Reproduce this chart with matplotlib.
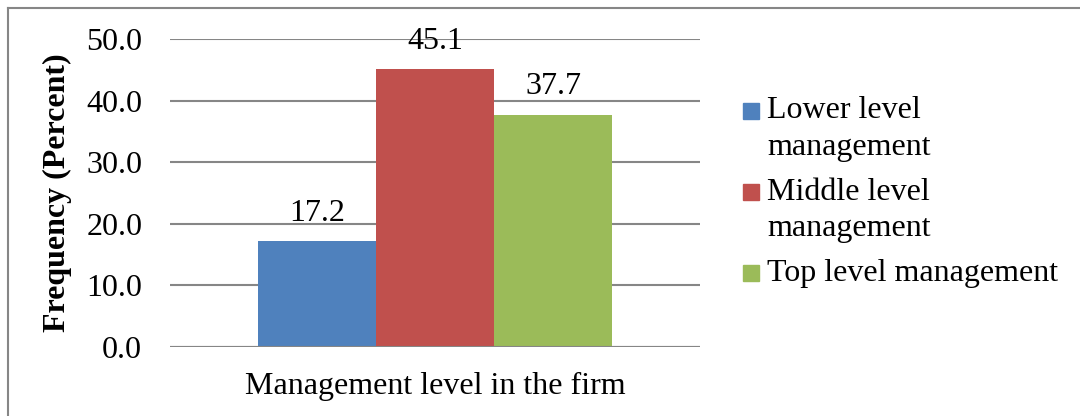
import numpy as np
import matplotlib.pyplot as plt
from matplotlib.lines import Line2D
from matplotlib.patches import Rectangle

# survey result: share of respondents by management level
levels = ['Lower level\nmanagement', 'Middle level\nmanagement', 'Top level management']
percent = [17.2, 45.1, 37.7]
colors = ['#4F81BD', '#C0504D', '#9BBB59']
yticks = [0, 10, 20, 30, 40, 50]

plt.rcParams['font.family'] = ['Liberation Serif', 'DejaVu Serif']
FS = 23
W, H = 1080, 416

fig = plt.figure(figsize=(W / 100, H / 100), dpi=100)
ax = fig.add_axes([170 / W, 1 - 347 / H, 530 / W, 308 / H])

x = np.arange(len(percent)) - 1
bars = ax.bar(x, percent, width=1.0, color=colors, zorder=3)
for b, v in zip(bars, percent):
    ax.annotate('%.1f' % v, (b.get_x() + b.get_width() / 2, v),
                xytext=(0, 20), textcoords='offset points',
                ha='center', va='center', fontsize=FS)

ax.set_xlim(-2.24, 2.24)
ax.set_ylim(0, 50)
ax.set_yticks(yticks)
ax.set_yticklabels(['%.1f' % t for t in yticks], fontsize=FS)
ax.tick_params(axis='y', length=0, pad=20)
ax.set_xticks([])
ax.grid(axis='y', color='#868686', linewidth=1.5, zorder=0)
ax.set_axisbelow(True)
for s in ax.spines.values():
    s.set_visible(False)
ax.axhline(0, color='#868686', linewidth=1.5, zorder=4)

ax.set_ylabel('Frequency (Percent)', fontsize=FS, fontweight='bold')
ax.yaxis.set_label_coords(-0.185, 0.5)
fig.text(435 / W, 1 - 386 / H, 'Management level in the firm',
         ha='center', va='center', fontsize=FS)

# legend: colour square next to the first line of each entry
y = 111
for lab, c in zip(levels, colors):
    fig.add_artist(Rectangle((743 / W, 1 - (y + 8) / H), 16 / W, 16 / H,
                             color=c, transform=fig.transFigure))
    lines = lab.split('\n')
    for i, ln in enumerate(lines):
        fig.text(767 / W, 1 - (y + 36 * i) / H, ln, ha='left', va='center', fontsize=FS)
    y += 36 * (len(lines) - 1) + 45

# chart frame, top and left edges
fig.add_artist(Line2D([8 / W, 8 / W], [0, 1 - 8 / H], color='#868686', linewidth=1.5))
fig.add_artist(Line2D([8 / W, 1], [1 - 8 / H, 1 - 8 / H], color='#868686', linewidth=1.5))

fig.savefig('out.png', dpi=100)
